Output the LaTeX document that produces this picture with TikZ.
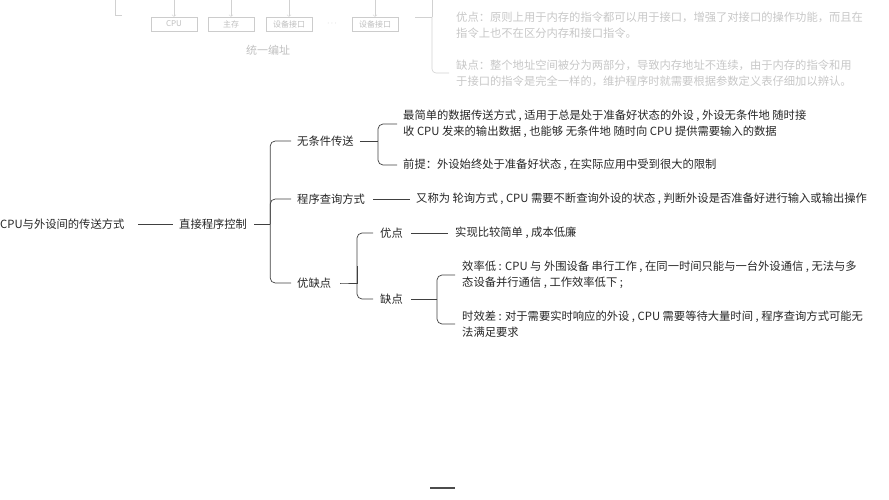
\documentclass[tikz,border=0pt]{standalone}
\usepackage{fontspec}
\setmainfont{Noto Sans CJK SC}
\usetikzlibrary{positioning}
\begin{document}
\begin{tikzpicture}[x=1pt,y=-1pt,
  txt/.style={anchor=west,inner sep=0pt,text=black!85,font=\fontsize{11.3}{16}\selectfont,align=left},
  link/.style={draw=black!75,line width=0.7pt},
  faint/.style={draw=black!18,line width=0.6pt},
  ftxt/.style={anchor=west,inner sep=0pt,text=black!22,font=\fontsize{11.3}{16}\selectfont,align=left},
  fbox/.style={draw=black!20,inner sep=0pt,minimum width=46pt,minimum height=14pt,text=black!25,font=\fontsize{8}{9}\selectfont}]
\useasboundingbox (0,0) rectangle (889,500);
% faded top part
\draw[faint] (115,0) |- (122,15);
\foreach \x/\t/\n in {174/CPU/fa,231/主存/fb,289/设备接口/fc,375/设备接口/fd}{
  \node[fbox] (\n) at (\x,24) {\t};
  \draw[faint,->] (\x,0) -- (\n.north);
}
\node[text=black!25,font=\fontsize{8}{9}\selectfont] (fdots) at (332,24) {$\cdots$};
\node[text=black!25,font=\fontsize{11}{13}\selectfont] (fname) at (268,50) {统一编址};
\coordinate (ff) at (432,17);
\draw[faint] (415,17) -- (ff);
\node[ftxt] (fpro) at (456,25) {优点：原则上用于内存的指令都可以用于接口，增强了对接口的操作功能，而且在\\指令上也不在区分内存和接口指令。};
\node[ftxt] (fcon) at (456,73) {缺点：整个地址空间被分为两部分，导致内存地址不连续，由于内存的指令和用\\于接口的指令是完全一样的，维护程序时就需要根据参数定义表仔细加以辨认。};
\draw[faint,rounded corners=4] (ff) |- (449,73);
\draw[faint] (ff) -- (ff|-0,0);
% main map
\node[txt] (root) at (0,224) {CPU与外设间的传送方式};
\node[txt] (ctrl) at (179,224) {直接程序控制};
\draw[link] (138,224) -- (173,224);
\draw[link] (ctrl.east) ++(7,0) -- ++(16,0) coordinate (f1);
\node[txt] (uncond) at (297,141) {无条件传送};
\node[txt] (query) at (297,199) {程序查询方式};
\node[txt] (proscons) at (297,283) {优缺点};
\foreach \n in {uncond,query,proscons}
  \draw[link,rounded corners=5] (f1) |- ([xshift=-6pt]\n.west);
% unconditional
\coordinate (f2) at (378,141);
\draw[link] ([xshift=6pt]uncond.east) -- (f2);
\node[txt] (simple) at (403,124) {最简单的数据传送方式 , 适用于总是处于准备好状态的外设 , 外设无条件地 随时接\\收 CPU 发来的输出数据 , 也能够 无条件地 随时向 CPU 提供需要输入的数据};
\node[txt] (premise) at (403,165) {前提：外设始终处于准备好状态 , 在实际应用中受到很大的限制};
\foreach \n in {simple,premise}
  \draw[link,rounded corners=5] (f2) |- ([xshift=-6pt]\n.west);
% polling
\node[txt] (poll) at (416,199) {又称为 轮询方式 , CPU 需要不断查询外设的状态 , 判断外设是否准备好进行输入或输出操作};
\draw[link] ([xshift=8pt]query.east) -- ([xshift=-6pt]poll.west);
% pros and cons
\coordinate (f3) at (357,266);
\draw[link] ([xshift=9pt]proscons.east) -- (340,283) -| (f3);
\node[txt] (pro) at (380,233) {优点};
\node[txt] (con) at (380,299) {缺点};
\draw[link,rounded corners=5] (357,283) |- ([xshift=-7pt]pro.west);
\draw[link,rounded corners=5] (357,283) |- ([xshift=-7pt]con.west);
\node[txt] (cheap) at (455,233) {实现比较简单 , 成本低廉};
\draw[link] ([xshift=8pt]pro.east) -- ([xshift=-7pt]cheap.west);
\coordinate (f4) at (437,299);
\draw[link] ([xshift=8pt]con.east) -- (f4);
\node[txt] (eff) at (462,275) {效率低 : CPU 与 外围设备 串行工作 , 在同一时间只能与一台外设通信 , 无法与多\\态设备并行通信 , 工作效率低下 ;};
\node[txt] (late) at (462,324) {时效差 : 对于需要实时响应的外设 , CPU 需要等待大量时间 , 程序查询方式可能无\\法满足要求};
\foreach \n in {eff,late}
  \draw[link,rounded corners=5] (f4) |- ([xshift=-7pt]\n.west);
% bottom mark
\draw[draw=black!70,line width=1.5pt] (430,488) -- (455,488);
\end{tikzpicture}
\end{document}
